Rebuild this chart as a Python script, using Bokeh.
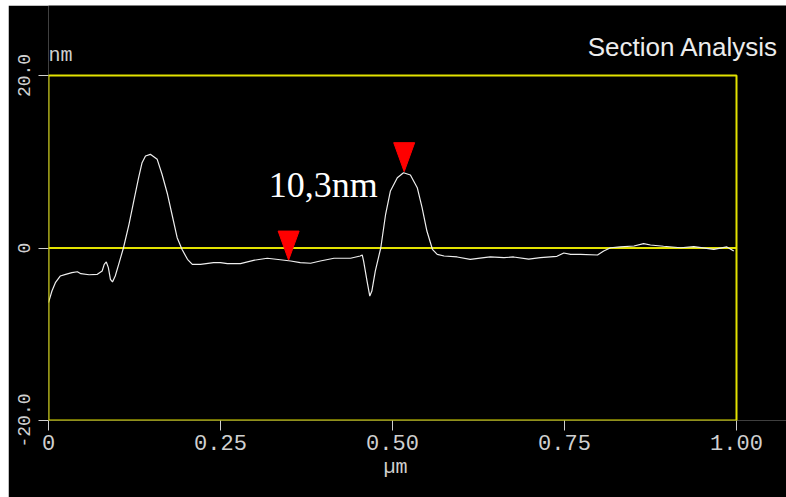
from bokeh.plotting import figure
from bokeh.models import Range1d, FixedTicker, Label, BoxAnnotation, Title
from bokeh.embed import file_html
from bokeh.resources import INLINE

# Section profile (x in µm, height in nm)
profile_x = [0.000, 0.005, 0.010, 0.017, 0.025, 0.034, 0.042, 0.047, 0.059, 0.071,
             0.078, 0.081, 0.084, 0.087, 0.090, 0.093, 0.097, 0.102, 0.109, 0.117,
             0.124, 0.131, 0.136, 0.141, 0.148, 0.158, 0.165, 0.173, 0.180, 0.187,
             0.194, 0.202, 0.209, 0.221, 0.240, 0.250, 0.260, 0.279, 0.298, 0.318,
             0.337, 0.352, 0.366, 0.381, 0.395, 0.415, 0.439, 0.453, 0.456, 0.458,
             0.463, 0.467, 0.470, 0.475, 0.483, 0.490, 0.497, 0.507, 0.516, 0.526,
             0.536, 0.543, 0.550, 0.558, 0.565, 0.575, 0.594, 0.613, 0.633, 0.642,
             0.662, 0.676, 0.698, 0.715, 0.739, 0.749, 0.759, 0.773, 0.798, 0.807,
             0.817, 0.831, 0.851, 0.865, 0.875, 0.894, 0.919, 0.938, 0.967, 0.986,
             0.996]
profile_y = [-6.34, -4.99, -4.02, -3.25, -3.05, -2.86, -2.75, -2.98, -3.10, -3.05,
             -2.67, -1.89, -1.62, -2.28, -3.63, -3.94, -3.25, -1.89, 0.03, 2.75,
             5.45, 8.15, 9.89, 10.67, 10.86, 10.28, 8.55, 6.23, 3.71, 1.19,
             -0.15, -1.31, -1.89, -1.89, -1.70, -1.70, -1.82, -1.82, -1.43, -1.19,
             -1.36, -1.51, -1.70, -1.77, -1.51, -1.19, -1.19, -0.93, -0.81, -1.51,
             -3.83, -5.57, -4.99, -2.67, 0.03, 3.91, 6.61, 8.15, 8.73, 8.46,
             6.99, 4.67, 1.97, -0.15, -0.73, -0.93, -1.04, -1.31, -1.12, -1.04,
             -1.12, -1.04, -1.28, -1.12, -0.96, -0.58, -0.73, -0.73, -0.81, -0.35,
             0.03, 0.12, 0.23, 0.50, 0.35, 0.20, 0.03, 0.15, -0.15, 0.12,
             -0.35]

# Cursor markers (tip positions)
cursor_x = [0.349, 0.517]
cursor_y = [-1.40, 8.85]

x_ticks = [0, 0.25, 0.5, 0.75, 1.0]
x_tick_labels = ["0", "0.25", "0.50", "0.75", "1.00"]
y_ticks = [-20, 0, 20]
y_tick_labels = ["-20.0", "0", "20.0"]

title_text = "Section Analysis"
height_text = "10,3nm"
x_unit = "µm"
y_unit = "nm"

# layout (pixels)
W, H = 778, 492
BL, BB = 40, 77
BOX_W, BOX_H = 688, 345          # size of the yellow plotting box
frame_w = W - BL
frame_h = H - BB
PX_PER_UM = BOX_W / (x_ticks[-1] - x_ticks[0])
PX_PER_NM = BOX_H / (y_ticks[-1] - y_ticks[0])

YELLOW = "#e2e200"
GREY = "#d0d0d0"


def fix(font_px):
    # baseline correction for Label text (px)
    return 0.39 * font_px


x_end = x_ticks[0] + frame_w / PX_PER_UM
y_end = y_ticks[0] + frame_h / PX_PER_NM

p = figure(width=W, height=H, output_backend="svg", toolbar_location=None,
           x_range=Range1d(x_ticks[0], x_end), y_range=Range1d(y_ticks[0], y_end),
           min_border_left=BL, min_border_right=0, min_border_top=0, min_border_bottom=BB,
           styles={"margin-left": "8px", "margin-top": "5px"})
p.background_fill_color = "black"
p.border_fill_color = "black"
p.outline_line_color = None
p.grid.visible = False

for ax in (p.xaxis[0], p.yaxis[0]):
    ax.axis_line_color = None
    ax.major_tick_line_color = GREY
    ax.major_tick_line_width = 1
    ax.major_tick_out = 10
    ax.major_tick_in = 0
    ax.minor_tick_line_color = None
    ax.major_label_text_color = GREY
    ax.major_label_text_font = "Liberation Mono"

p.xaxis.ticker = FixedTicker(ticks=x_ticks)
p.xaxis.major_label_overrides = dict(zip(x_ticks, x_tick_labels))
p.xaxis.major_label_standoff = 4
p.xaxis.major_label_text_font_size = "22px"

p.yaxis.ticker = FixedTicker(ticks=y_ticks)
p.yaxis.major_label_overrides = dict(zip(y_ticks, y_tick_labels))
p.yaxis.major_label_orientation = "vertical"
p.yaxis.major_label_standoff = 9
p.yaxis.major_label_text_font_size = "18px"

# x unit under the axis, centred under the yellow box
p.add_layout(Title(text=x_unit, align="left", offset=335, standoff=3,
                   text_font="Liberation Mono", text_font_size="20px",
                   text_font_style="normal", text_color=GREY), "below")

# yellow box and zero line
p.add_layout(BoxAnnotation(left=x_ticks[0], right=x_ticks[-1], bottom=y_ticks[0], top=y_ticks[-1],
                           fill_alpha=0, line_color=YELLOW, line_alpha=1.0, line_width=2))
p.line([x_ticks[0], x_ticks[-1]], [0, 0], line_color=YELLOW, line_width=2)

p.line(profile_x, profile_y, line_color="#eeeeee", line_width=1.2)

# cursor triangles (tall, pointing down to the tip)
hw = 10.5 / PX_PER_UM
th = 29 / PX_PER_NM
xs = [[cx - hw, cx + hw, cx] for cx in cursor_x]
ys = [[cy + th, cy + th, cy] for cy in cursor_y]
p.patches(xs, ys, fill_color="#ff0000", line_color="#ff0000", line_width=1)

p.add_layout(Label(x=0.320, y=5.7 + fix(36) / PX_PER_NM, text=height_text, text_color="white",
                   text_font="Liberation Serif", text_font_size="36px",
                   text_align="left", text_baseline="alphabetic"))

p.add_layout(Label(x=x_ticks[0], y=y_ticks[-1] + (12 + fix(20)) / PX_PER_NM, text=y_unit,
                   text_color=GREY, text_font="Liberation Mono", text_font_size="20px",
                   text_align="left", text_baseline="alphabetic"))

p.add_layout(Label(x=x_ticks[-1] + 42 / PX_PER_UM, y=y_ticks[-1] + (18 + fix(26)) / PX_PER_NM,
                   text=title_text, text_color="#ececec", text_font="Liberation Sans",
                   text_font_size="26px", text_align="right", text_baseline="alphabetic"))

open("out.html", "w").write(file_html(p, INLINE))
